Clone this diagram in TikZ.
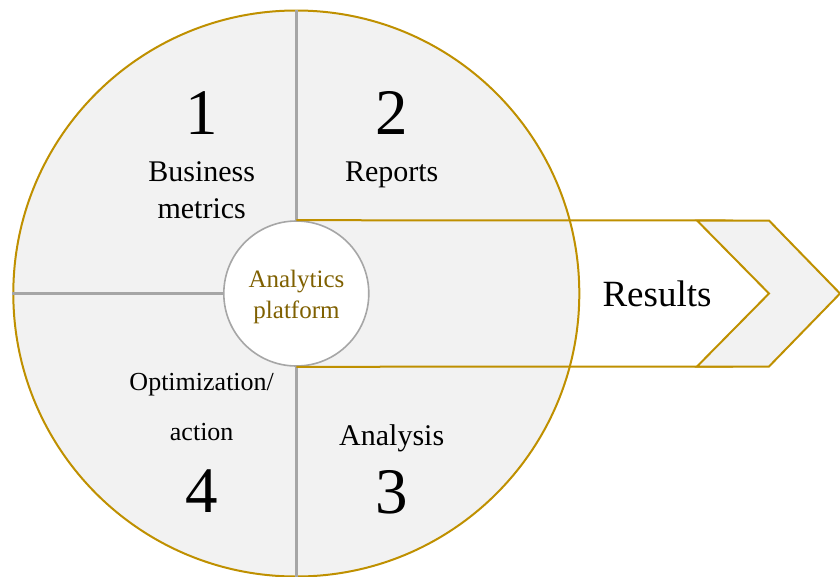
\documentclass[tikz,border=0pt]{standalone}
\usepackage{fontspec}
\setmainfont{Liberation Serif}
\definecolor{gold}{RGB}{191,144,0}
\definecolor{darkgold}{RGB}{127,96,0}
\definecolor{panel}{RGB}{242,242,242}
\definecolor{rule}{RGB}{166,166,166}
\begin{document}
\begin{tikzpicture}[x=1pt,y=-1pt,
        wheel/.style={circle,draw=gold,fill=panel,line width=2pt,minimum size=566pt,inner sep=0pt},
        hub/.style={circle,draw=rule,fill=white,line width=1.6pt,minimum size=145pt,inner sep=0pt},
        digit/.style={anchor=base,font=\fontsize{65}{65}\selectfont},
        caption/.style={anchor=base,font=\fontsize{30}{36}\selectfont},
        small/.style={anchor=base,font=\fontsize{26}{30}\selectfont},
        hubtext/.style={anchor=base,text=darkgold,font=\fontsize{25}{31}\selectfont},
        divider/.style={draw=rule,line width=2.5pt},
        band/.style={draw=gold,line width=2pt,line join=miter}]
        \useasboundingbox (0,0) rectangle (840,576);
        \node[wheel] (wheel) at (296.3,293.5) {};
        \node[hub] (hub) at (296.3,293.5) {};
        \draw[divider] (wheel.north) -- (hub.north);
        \draw[divider] (hub.south) -- (wheel.south);
        \draw[divider] (wheel.west) -- (hub.west);
        
        \coordinate (bandtop) at (733,220.5);
        \coordinate (bandbottom) at (733,366.5);
        \draw[band] (hub.north) -- (bandtop);
        \draw[band] (hub.south) -- (bandbottom);
        \draw[band,fill=panel] (697,220.5) -- (769,220.5) -- (840,293.5) -- (769,366.5) -- (697,366.5) -- (769,293.5) -- cycle;
        
        \node[digit] (one) at (201.7,134) {1};
        \node[caption] (business) at (201.7,181.7) {Business};
        \node[caption] (metrics) at (201.7,218) {metrics};
        \node[digit] (two) at (391.7,134) {2};
        \node[caption] (reports) at (391.7,181.7) {Reports};
        \node[caption] (analysis) at (391.7,445) {Analysis};
        \node[digit] (three) at (391.7,513) {3};
        \node[small] (optim) at (201.7,390) {Optimization/};
        \node[small] (action) at (201.7,440) {action};
        \node[digit] (four) at (201.7,512) {4};
        \node[hubtext] (analytics) at (296.5,287.3) {Analytics};
        \node[hubtext] (platform) at (296.5,318.3) {platform};
        \node[anchor=base,font=\fontsize{37}{40}\selectfont] (results) at (657,306) {Results};
\end{tikzpicture}
\end{document}
